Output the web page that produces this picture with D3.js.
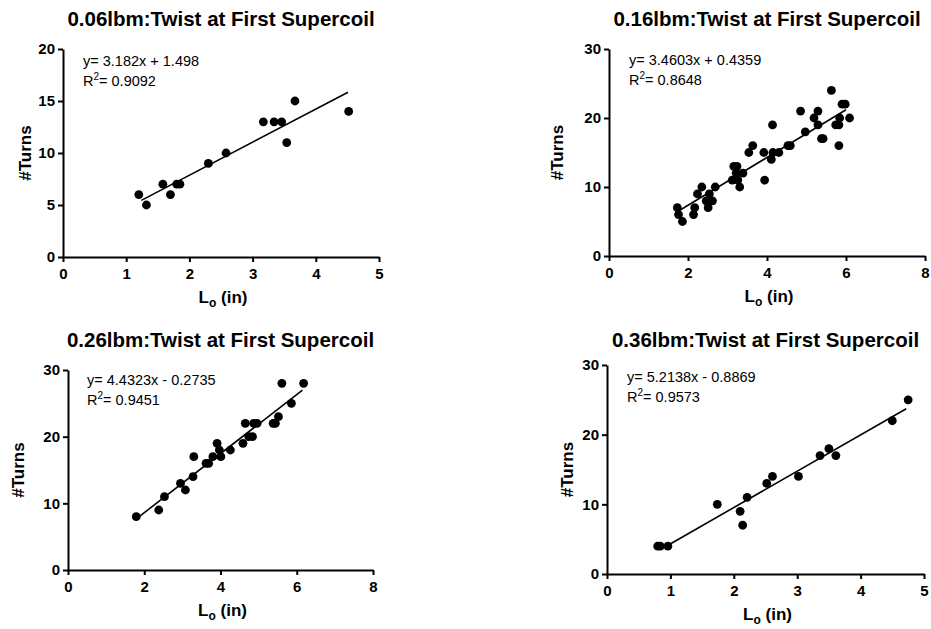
<!DOCTYPE html>
<html><head><meta charset="utf-8">
<script src="https://cdn.jsdelivr.net/npm/d3@7"></script>
<style>
body{margin:0;background:#fff;}
svg{display:block;font-family:Arial,"Liberation Sans",sans-serif;}
</style></head>
<body>
<svg id="c" width="931" height="629"></svg>
<script>
// ---- data ----
const titles = ["0.06lbm:Twist at First Supercoil","0.16lbm:Twist at First Supercoil","0.26lbm:Twist at First Supercoil","0.36lbm:Twist at First Supercoil"];
const xMax = [5, 8, 8, 5];
const yMax = [20, 30, 30, 30];
const xTickStep = [1, 2, 2, 1];
const yTickStep = [5, 10, 10, 10];
const slopes = [3.182, 3.4603, 4.4323, 5.2138];
const intercepts = [1.498, 0.4359, -0.2735, -0.8869];
const eqLabels = ["y= 3.182x + 1.498","y= 3.4603x + 0.4359","y= 4.4323x - 0.2735","y= 5.2138x - 0.8869"];
const r2Labels = ["0.9092","0.8648","0.9451","0.9573"];
const lineFrom = [1.24, 1.75, 1.80, 0.97];
const lineTo = [4.51, 6.00, 6.15, 4.72];

const p1x = [1.20,1.32,1.58,1.70,1.80,1.85,2.30,2.58,3.17,3.34,3.46,3.54,3.67,4.52];
const p1y = [6,5,7,6,7,7,9,10,13,13,13,11,15,14];
const p2x = [1.73,1.76,1.86,2.14,2.17,2.24,2.35,2.46,2.51,2.54,2.62,2.69,3.12,3.16,3.22,3.24,3.26,3.31,3.39,3.54,3.64,3.92,3.94,4.11,4.14,4.15,4.30,4.53,4.59,4.85,4.97,5.19,5.29,5.29,5.38,5.42,5.63,5.74,5.82,5.82,5.84,5.90,5.98,6.09];
const p2y = [7,6,5,6,7,9,10,8,7,9,8,10,11,13,12,13,11,10,12,15,16,15,11,14,19,15,15,16,16,21,18,20,21,19,17,17,24,19,19,16,20,22,22,20];
const p3x = [1.79,2.38,2.53,2.95,3.08,3.28,3.30,3.62,3.69,3.80,3.91,3.97,4.01,4.26,4.59,4.65,4.74,4.84,4.87,4.96,5.38,5.44,5.52,5.61,5.86,6.18];
const p3y = [8,9,11,13,12,14,17,16,16,17,19,18,17,18,19,22,20,20,22,22,22,22,23,28,25,28];
const p4x = [0.80,0.84,0.96,1.74,2.10,2.14,2.21,2.52,2.61,3.02,3.36,3.50,3.61,4.50,4.75];
const p4y = [4,4,4,10,9,7,11,13,14,14,17,18,17,22,25];
const seriesX = [p1x, p2x, p3x, p4x];
const seriesY = [p1y, p2y, p3y, p4y];

// ---- layout (style) ----
const boxes = [
  {x0:63,  x1:379, yT:49,  yB:257, titleY:26,  ylabX:25,  eqX:83,  eqY:66},
  {x0:609, x1:925, yT:49,  yB:256, titleY:26,  ylabX:557, eqX:629, eqY:65},
  {x0:68,  x1:373, yT:370, yB:570, titleY:347, ylabX:18,  eqX:87,  eqY:385},
  {x0:607, x1:924, yT:365, yB:574, titleY:347, ylabX:567, eqX:627, eqY:382}
];

const svg = d3.select("#c");

boxes.forEach((b, i) => {
  const g = svg.append("g");
  const x = d3.scaleLinear().domain([0, xMax[i]]).range([b.x0, b.x1]);
  const y = d3.scaleLinear().domain([0, yMax[i]]).range([b.yB, b.yT]);

  const xAxis = d3.axisBottom(x).tickValues(d3.range(0, xMax[i] + 0.001, xTickStep[i])).tickFormat(d3.format("d"))
    .tickSize(5).tickSizeOuter(0).tickPadding(6);
  const yAxis = d3.axisLeft(y).tickValues(d3.range(0, yMax[i] + 0.001, yTickStep[i])).tickFormat(d3.format("d"))
    .tickSize(5).tickSizeOuter(0).tickPadding(3);

  const gx = g.append("g").attr("transform", `translate(0,${b.yB})`).call(xAxis);
  const gy = g.append("g").attr("transform", `translate(${b.x0},0)`).call(yAxis);
  [gx, gy].forEach(a => {
    a.select(".domain").attr("stroke", "#000").attr("stroke-width", 2);
    a.selectAll(".tick line").attr("stroke", "#000").attr("stroke-width", 2);
    a.selectAll(".tick text").attr("fill", "#000").attr("font-size", 15).attr("font-weight", "bold").attr("font-family", "Arial, 'Liberation Sans', sans-serif");
  });

  // title
  g.append("text").attr("x", (b.x0 + b.x1) / 2).attr("y", b.titleY).attr("text-anchor", "middle")
    .attr("font-size", 20.5).attr("font-weight", "bold").text(titles[i]);

  // y label
  g.append("text").attr("transform", `translate(${b.ylabX},${(b.yT + b.yB) / 2}) rotate(-90)`)
    .attr("text-anchor", "middle").attr("dominant-baseline", "central")
    .attr("font-size", 17).attr("font-weight", "bold").text("#Turns");

  // x label
  const xl = g.append("text").attr("x", (b.x0 + b.x1) / 2 + 2).attr("y", b.yB + 46).attr("text-anchor", "middle")
    .attr("font-size", 17).attr("font-weight", "bold");
  xl.append("tspan").text("L");
  xl.append("tspan").attr("font-size", 12).attr("dy", 4).text("o");
  xl.append("tspan").attr("dy", -4).text(" (in)");

  // regression line
  g.append("line")
    .attr("x1", x(lineFrom[i])).attr("y1", y(slopes[i] * lineFrom[i] + intercepts[i]))
    .attr("x2", x(lineTo[i])).attr("y2", y(slopes[i] * lineTo[i] + intercepts[i]))
    .attr("stroke", "#000").attr("stroke-width", 1.6);

  // points
  g.selectAll("circle").data(seriesX[i].map((v, k) => [v, seriesY[i][k]])).join("circle")
    .attr("cx", d => x(d[0])).attr("cy", d => y(d[1])).attr("r", 4.4).attr("fill", "#000");

  // equation text
  g.append("text").attr("x", b.eqX).attr("y", b.eqY).attr("font-size", 14.5).text(eqLabels[i]);
  const r2 = g.append("text").attr("x", b.eqX).attr("y", b.eqY + 20).attr("font-size", 14.5);
  r2.append("tspan").text("R");
  r2.append("tspan").attr("font-size", 10).attr("dy", -6).text("2");
  r2.append("tspan").attr("dy", 6).text("= " + r2Labels[i]);
});
</script>
</body></html>
